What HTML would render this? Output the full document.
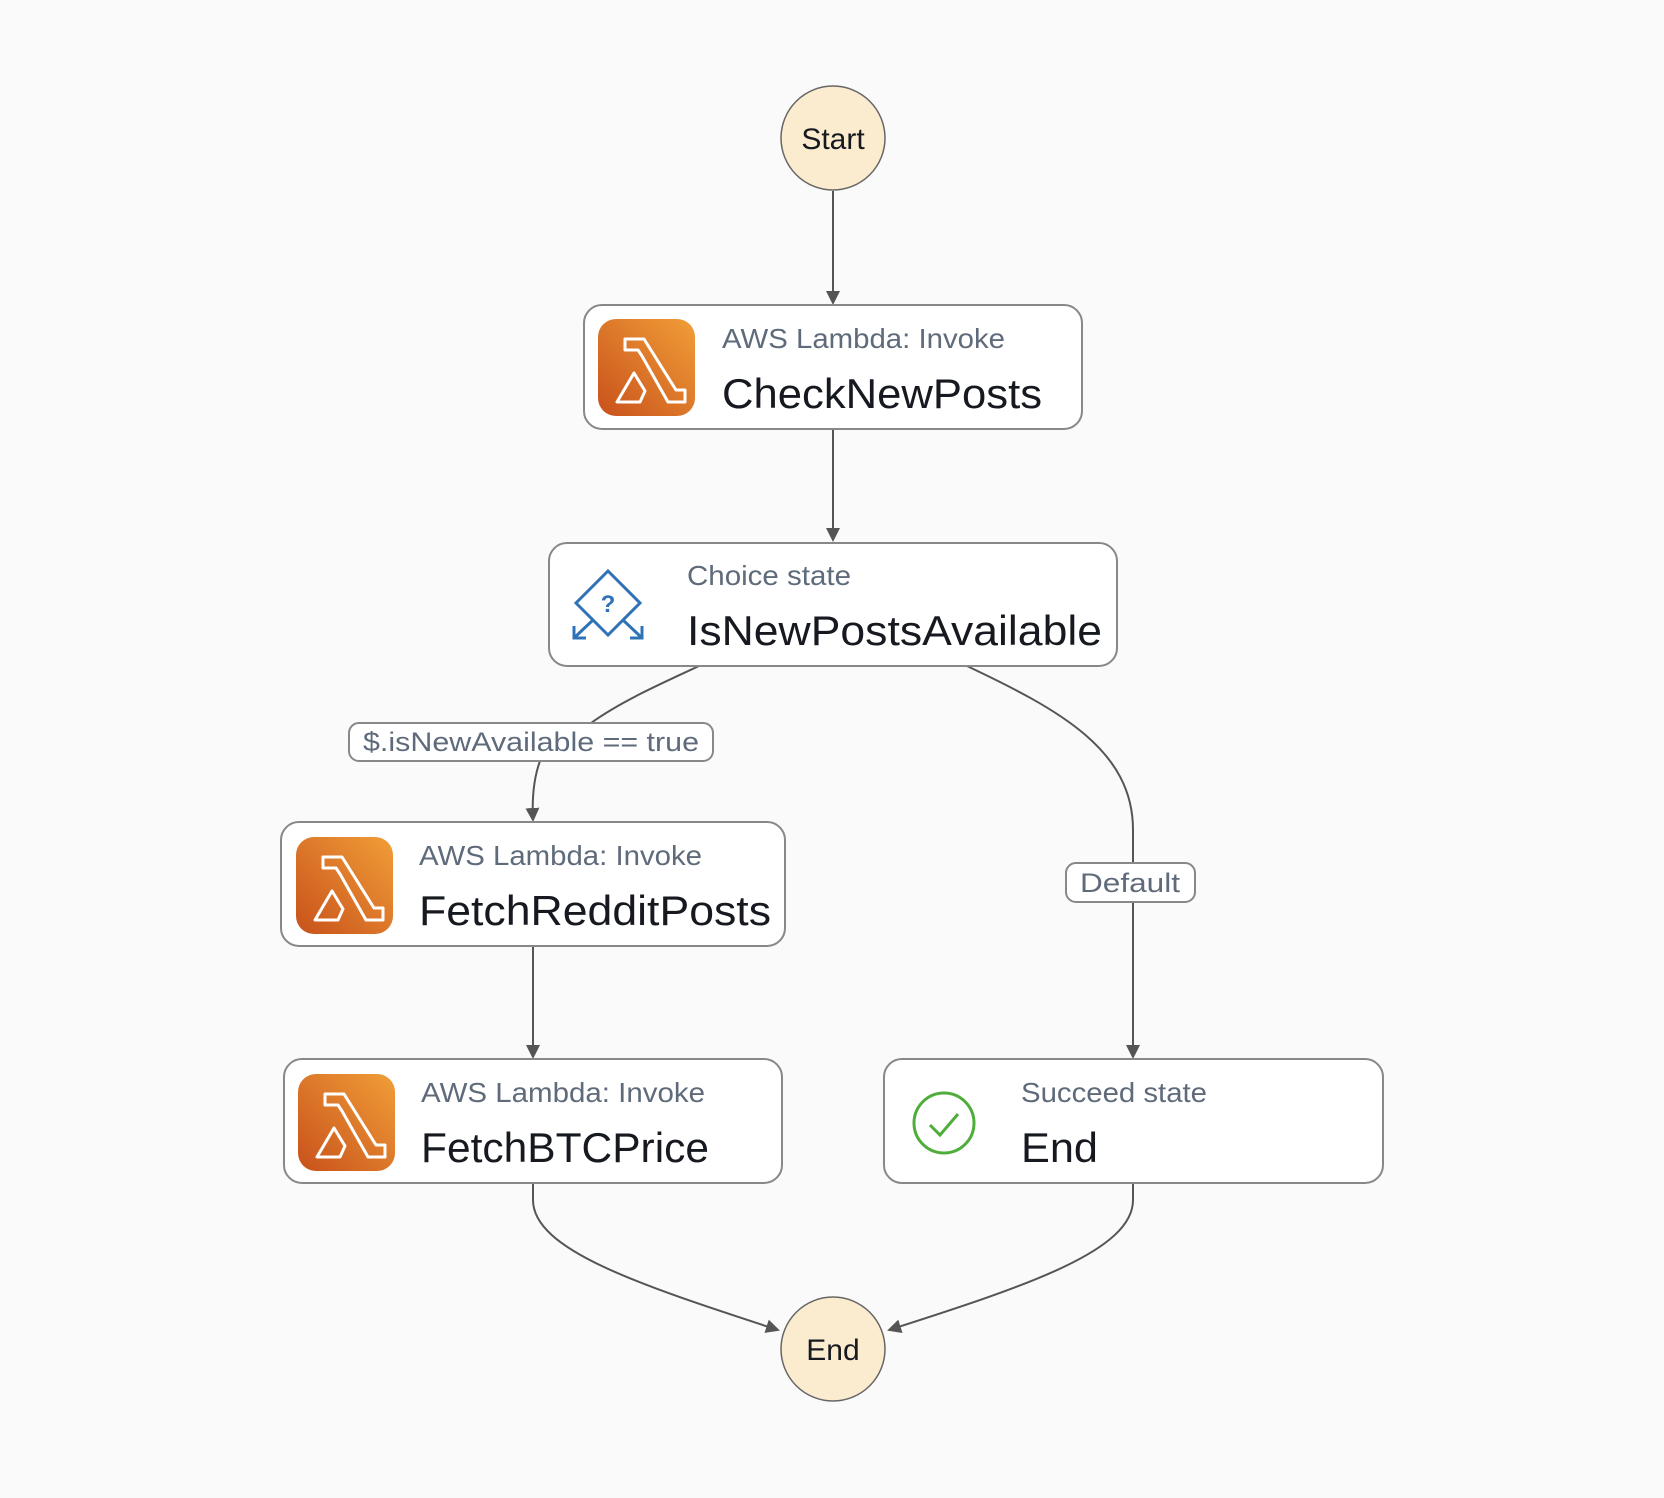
<!DOCTYPE html>
<html><head><meta charset="utf-8"><style>
html,body{margin:0;padding:0;background:#fafafa;}
svg{display:block;}
text{font-family:"Liberation Sans",sans-serif;}
</style></head><body>
<svg width="1664" height="1498" viewBox="0 0 1664 1498" xmlns="http://www.w3.org/2000/svg">
<defs>
<linearGradient id="lg" x1="0" y1="1" x2="1" y2="0">
<stop offset="0" stop-color="#c8511b"/><stop offset="1" stop-color="#f19e38"/>
</linearGradient>
<marker id="ar" markerWidth="14" markerHeight="14" refX="12" refY="7" orient="auto" markerUnits="userSpaceOnUse">
<path d="M0,0 L14,7 L0,14 Z" fill="#555"/>
</marker>
<g id="lam">
<rect x="0" y="0" width="97" height="97" rx="18" fill="url(#lg)"/>
<path d="M27,20 H46 L78,71 H87 V83 H70 L44,37 L40,31 H27 Z" fill="none" stroke="#fff" stroke-width="3" stroke-linejoin="round"/>
<path d="M36,54 L19,83 H42 L47,72 Z" fill="none" stroke="#fff" stroke-width="3" stroke-linejoin="round"/>
</g>
</defs>
<rect width="1664" height="1498" fill="#fafafa"/>

<g fill="none" stroke="#555" stroke-width="2">
<line x1="833" y1="191" x2="833" y2="303" marker-end="url(#ar)"/>
<line x1="833" y1="429" x2="833" y2="540" marker-end="url(#ar)"/>
<path d="M699,666 C660,684 620,702 591,723"/>
<path d="M540,761 C533,780 532,800 533,820" marker-end="url(#ar)"/>
<path d="M967,666 C1060,710 1133,750 1133,830 L1133,863"/>
<line x1="1133" y1="902" x2="1133" y2="1057" marker-end="url(#ar)"/>
<line x1="533" y1="946" x2="533" y2="1057" marker-end="url(#ar)"/>
<path d="M533,1183 L533,1200 C533,1250 640,1285 778,1330" marker-end="url(#ar)"/>
<path d="M1133,1183 L1133,1200 C1133,1250 1030,1285 889,1330" marker-end="url(#ar)"/>
</g>

<circle cx="833" cy="138" r="52" fill="#fbeccf" stroke="#666" stroke-width="1.5"/>
<text x="833" y="149" font-size="30" text-anchor="middle" fill="#16191f">Start</text>
<circle cx="833" cy="1349" r="52" fill="#fbeccf" stroke="#666" stroke-width="1.5"/>
<text x="833" y="1360" font-size="30" text-anchor="middle" fill="#16191f">End</text>

<rect x="584" y="305" width="498" height="124" rx="18" fill="#fff" stroke="#888" stroke-width="2"/>
<use href="#lam" x="598" y="319"/>
<text x="722" y="348" font-size="28" fill="#5f6b7a" textLength="283" lengthAdjust="spacingAndGlyphs">AWS Lambda: Invoke</text>
<text x="722" y="408" font-size="42" fill="#16191f" textLength="320" lengthAdjust="spacingAndGlyphs">CheckNewPosts</text>

<rect x="549" y="543" width="568" height="123" rx="18" fill="#fff" stroke="#888" stroke-width="2"/>
<g fill="none" stroke="#2e73b8" stroke-width="3">
<path d="M608,571 L640,603 L608,635 L576,603 Z"/>
<path d="M593,620 L574,638 M574,626 V638 H586"/>
<path d="M623,620 L642,638 M642,626 V638 H630"/>
</g>
<text x="608" y="612" font-size="24" font-weight="bold" text-anchor="middle" fill="#2e73b8">?</text>
<text x="687" y="585" font-size="28" fill="#5f6b7a" textLength="164" lengthAdjust="spacingAndGlyphs">Choice state</text>
<text x="687" y="645" font-size="42" fill="#16191f" textLength="415" lengthAdjust="spacingAndGlyphs">IsNewPostsAvailable</text>

<rect x="349" y="723" width="364" height="38" rx="10" fill="#fff" stroke="#888" stroke-width="2"/>
<text x="531" y="751" font-size="27" text-anchor="middle" fill="#5f6b7a" textLength="336" lengthAdjust="spacingAndGlyphs">$.isNewAvailable == true</text>
<rect x="1066" y="863" width="129" height="39" rx="10" fill="#fff" stroke="#888" stroke-width="2"/>
<text x="1130" y="892" font-size="27" text-anchor="middle" fill="#5f6b7a" textLength="100" lengthAdjust="spacingAndGlyphs">Default</text>

<rect x="281" y="822" width="504" height="124" rx="18" fill="#fff" stroke="#888" stroke-width="2"/>
<use href="#lam" x="296" y="837"/>
<text x="419" y="865" font-size="28" fill="#5f6b7a" textLength="283" lengthAdjust="spacingAndGlyphs">AWS Lambda: Invoke</text>
<text x="419" y="925" font-size="42" fill="#16191f" textLength="352" lengthAdjust="spacingAndGlyphs">FetchRedditPosts</text>

<rect x="284" y="1059" width="498" height="124" rx="18" fill="#fff" stroke="#888" stroke-width="2"/>
<use href="#lam" x="298" y="1074"/>
<text x="421" y="1102" font-size="28" fill="#5f6b7a" textLength="284" lengthAdjust="spacingAndGlyphs">AWS Lambda: Invoke</text>
<text x="421" y="1162" font-size="42" fill="#16191f" textLength="288" lengthAdjust="spacingAndGlyphs">FetchBTCPrice</text>

<rect x="884" y="1059" width="499" height="124" rx="18" fill="#fff" stroke="#888" stroke-width="2"/>
<circle cx="944" cy="1123" r="30" fill="none" stroke="#4fae3b" stroke-width="3"/>
<path d="M930,1125 L940,1135 L958,1114" fill="none" stroke="#4fae3b" stroke-width="3"/>
<text x="1021" y="1102" font-size="28" fill="#5f6b7a" textLength="186" lengthAdjust="spacingAndGlyphs">Succeed state</text>
<text x="1021" y="1162" font-size="42" fill="#16191f" textLength="77" lengthAdjust="spacingAndGlyphs">End</text>
</svg>
</body></html>
